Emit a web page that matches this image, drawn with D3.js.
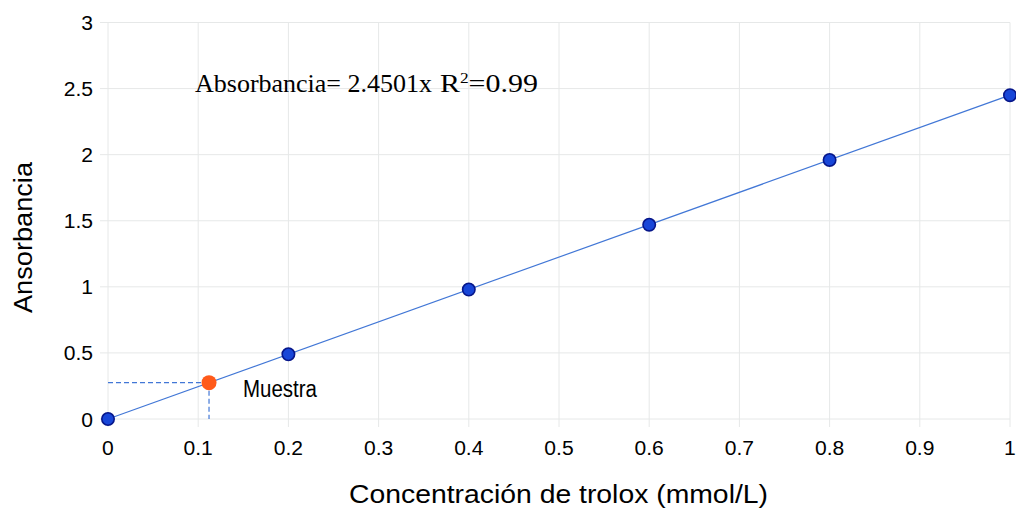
<!DOCTYPE html>
<html><head><meta charset="utf-8">
<script src="https://cdn.jsdelivr.net/npm/d3@7"></script>
<style>body{margin:0;background:#fff}svg{display:block}</style>
</head><body>
<script>
const concentrations = [0, 0.2, 0.4, 0.6, 0.8, 1.0];
const absorbances = [0, 0.49, 0.98, 1.47, 1.96, 2.45];
const slope = 2.4501;
const rSquared = "0.99";
const sample = {x: 0.112, y: 0.275, label: "Muestra"};
const xTicks = [0, 0.1, 0.2, 0.3, 0.4, 0.5, 0.6, 0.7, 0.8, 0.9, 1];
const yTicks = [0, 0.5, 1, 1.5, 2, 2.5, 3];

const W = 1016, H = 508;
const svg = d3.select("body").append("svg").attr("width", W).attr("height", H);
const x = d3.scaleLinear().domain([0, 1]).range([108, 1010]);
const y = d3.scaleLinear().domain([0, 3]).range([419, 22.5]);
const font = "Liberation Sans, Arial, sans-serif";

function stretch(sel, k) {
  sel.each(function() {
    const w = this.getComputedTextLength();
    d3.select(this).attr("textLength", w * k).attr("lengthAdjust", "spacingAndGlyphs");
  });
}

// grid
svg.append("g").selectAll("line").data(xTicks).join("line")
  .attr("x1", d => x(d)).attr("x2", d => x(d)).attr("y1", y(3)).attr("y2", y(0) + 8)
  .attr("stroke", "#e6e8e8").attr("stroke-width", 1);
svg.append("g").selectAll("line").data(yTicks).join("line")
  .attr("x1", x(0) - 8).attr("x2", x(1)).attr("y1", d => y(d)).attr("y2", d => y(d))
  .attr("stroke", "#e6e8e8").attr("stroke-width", 1);

// tick labels
const xl = svg.append("g").selectAll("text").data(xTicks).join("text")
  .attr("x", d => x(d)).attr("y", 455).attr("text-anchor", "middle")
  .attr("font-family", font).attr("font-size", 19.5).attr("fill", "#000")
  .text(d => String(d));
stretch(xl, 1.08);
const yl = svg.append("g").selectAll("text").data(yTicks).join("text")
  .attr("x", 93).attr("y", d => y(d) + 7.5).attr("text-anchor", "end")
  .attr("font-family", font).attr("font-size", 19.5).attr("fill", "#000")
  .text(d => String(d));
stretch(yl, 1.08);

// axis titles
svg.append("text").attr("x", 349).attr("y", 503)
  .attr("font-family", font).attr("font-size", 25.5)
  .attr("textLength", 419).attr("lengthAdjust", "spacingAndGlyphs")
  .text("Concentración de trolox (mmol/L)");
svg.append("text").attr("transform", "translate(32,313) rotate(-90)")
  .attr("font-family", font).attr("font-size", 26.5)
  .attr("textLength", 151).attr("lengthAdjust", "spacingAndGlyphs")
  .text("Ansorbancia");

// trend line
svg.append("line")
  .attr("x1", x(0)).attr("y1", y(0)).attr("x2", x(1)).attr("y2", y(slope * 1))
  .attr("stroke", "#4277d6").attr("stroke-width", 1.2);

// sample dashed guides
svg.append("line").attr("x1", x(0)).attr("x2", x(sample.x)).attr("y1", y(sample.y)).attr("y2", y(sample.y))
  .attr("stroke", "#4277d6").attr("stroke-width", 1.2).attr("stroke-dasharray", "5,3");
svg.append("line").attr("x1", x(sample.x)).attr("x2", x(sample.x)).attr("y1", y(sample.y)).attr("y2", y(0))
  .attr("stroke", "#4277d6").attr("stroke-width", 1.2).attr("stroke-dasharray", "5,3");

// points
svg.append("g").selectAll("circle").data(concentrations).join("circle")
  .attr("cx", d => x(d)).attr("cy", (d, i) => y(absorbances[i])).attr("r", 6.2)
  .attr("fill", "#1846d8").attr("stroke", "#06168a").attr("stroke-width", 1.6);

svg.append("circle").attr("cx", x(sample.x)).attr("cy", y(sample.y)).attr("r", 7.5)
  .attr("fill", "#ff5a1a");
svg.append("text").attr("x", 243).attr("y", 397)
  .attr("font-family", font).attr("font-size", 23.5)
  .attr("textLength", 74).attr("lengthAdjust", "spacingAndGlyphs")
  .text(sample.label);

// equation
const serif = "Liberation Serif, Times New Roman, serif";
svg.append("text").attr("x", 195).attr("y", 92)
  .attr("font-family", serif).attr("font-size", 26)
  .attr("textLength", 237).attr("lengthAdjust", "spacingAndGlyphs")
  .text("Absorbancia= " + slope + "x");
const eq = svg.append("text").attr("x", 440).attr("y", 92)
  .attr("font-family", serif).attr("font-size", 26)
  .attr("textLength", 98).attr("lengthAdjust", "spacingAndGlyphs");
eq.append("tspan").text("R");
eq.append("tspan").attr("font-size", 15).attr("dy", -9).text("2");
eq.append("tspan").attr("dy", 9).text("=" + rSquared);
</script>
</body></html>
